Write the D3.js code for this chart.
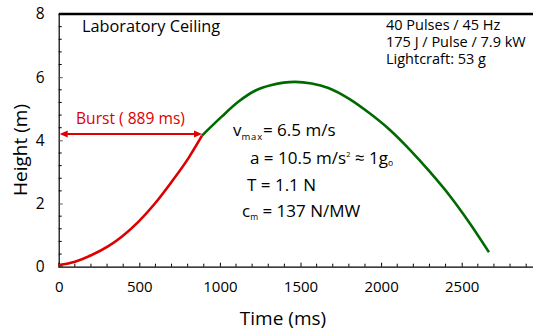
<!DOCTYPE html>
<html>
<head>
<meta charset="utf-8">
<script src="https://cdn.jsdelivr.net/npm/d3@7"></script>
<style>
  html, body { margin: 0; padding: 0; background: #fff; }
  svg { display: block; font-family: "Open Sans", "Noto Sans", sans-serif; }
</style>
</head>
<body>
<svg id="chart" width="533" height="331"></svg>
<script>
// Flight trajectory: laser-propelled lightcraft, powered burst then coast
const burstTime   = [0, 101, 205, 308, 391, 494, 597, 701, 804, 889];
const burstHeight = [0.05, 0.16, 0.37, 0.65, 0.95, 1.42, 2.0, 2.69, 3.43, 4.15];

const coastTime   = [889, 1011, 1114, 1218, 1321, 1466, 1569, 1673, 1807, 1931, 2055, 2179, 2303, 2427, 2551, 2669];
const coastHeight = [4.15, 4.75, 5.22, 5.57, 5.75, 5.85, 5.80, 5.66, 5.30, 4.85, 4.33, 3.70, 3.00, 2.24, 1.37, 0.46];

const xMajorTicks = [0, 500, 1000, 1500, 2000, 2500];
const yMajorTicks = [0, 2, 4, 6, 8];

const burstDuration = 889;     // ms
const burstArrowHeight = 4.2;  // m
const ceilingHeight = 8;       // m

const svg = d3.select("#chart");

const x = d3.scaleLinear().domain([0, 3000]).range([58.7, 542.3]);
const y = d3.scaleLinear().domain([0, 8]).range([266.7, 14]);

// minor ticks
const xMinor = d3.range(0, 3001, 100).filter(v => v % 500 !== 0);
const yMinor = d3.range(0, 8.001, 0.4).map(v => +v.toFixed(1)).filter(v => Math.abs(v / 2 - Math.round(v / 2)) > 1e-6);

// x axis
const gx = svg.append("g").attr("transform", `translate(0,${y(0)})`);
gx.call(d3.axisBottom(x).tickValues(xMajorTicks).tickSize(-4).tickPadding(15).tickFormat(d3.format("d")))
  .call(g => g.select(".domain").attr("stroke", "#000").attr("stroke-width", 1.2))
  .call(g => g.selectAll(".tick line").attr("stroke", "#000"))
  .call(g => g.selectAll(".tick text").attr("font-size", 15).attr("fill", "#000")
              .attr("font-family", "Open Sans, sans-serif"));
gx.selectAll(".minor").data(xMinor).enter().append("line")
  .attr("x1", d => x(d)).attr("x2", d => x(d)).attr("y1", 0).attr("y2", -3)
  .attr("stroke", "#000");

// y axis
const gy = svg.append("g").attr("transform", `translate(${x(0)},0)`);
gy.call(d3.axisLeft(y).tickValues(yMajorTicks).tickSize(-4).tickPadding(14).tickFormat(d3.format("d")))
  .call(g => g.select(".domain").attr("stroke", "#000").attr("stroke-width", 1.2))
  .call(g => g.selectAll(".tick line").attr("stroke", "#555"))
  .call(g => g.selectAll(".tick text").attr("font-size", 15.5).attr("fill", "#000")
              .attr("font-family", "Open Sans, sans-serif"));
gy.selectAll(".minor").data(yMinor).enter().append("line")
  .attr("x1", 0).attr("x2", 3).attr("y1", d => y(d)).attr("y2", d => y(d))
  .attr("stroke", "#000");

// ceiling line along the top of the frame
svg.append("line")
  .attr("x1", x(0)).attr("x2", 533)
  .attr("y1", y(ceilingHeight)).attr("y2", y(ceilingHeight))
  .attr("stroke", "#000").attr("stroke-width", 2.6);

// axis titles
svg.append("text").attr("x", 283).attr("y", 325).attr("text-anchor", "middle")
  .attr("font-size", 19).text("Time (ms)");
svg.append("text").attr("transform", "translate(27,150) rotate(-90)").attr("text-anchor", "middle")
  .attr("font-size", 19).text("Height (m)");

// trajectory curves
const line = d3.line().x(d => x(d[0])).y(d => y(d[1])).curve(d3.curveMonotoneX);
svg.append("path").datum(coastTime.map((t, i) => [t, coastHeight[i]]))
  .attr("d", line).attr("fill", "none").attr("stroke", "#006a00").attr("stroke-width", 2.6);
svg.append("path").datum(burstTime.map((t, i) => [t, burstHeight[i]]))
  .attr("d", line).attr("fill", "none").attr("stroke", "#dd0000").attr("stroke-width", 2.6);

// burst duration arrow
const ay = y(burstArrowHeight), ax0 = x(0), ax1 = x(burstDuration);
svg.append("line").attr("x1", ax0 + 6).attr("x2", ax1 - 6).attr("y1", ay).attr("y2", ay)
  .attr("stroke", "#dd0000").attr("stroke-width", 2);
svg.append("path").attr("d", `M${ax0 + 1},${ay} l8,-3.5 v7 z`).attr("fill", "#dd0000");
svg.append("path").attr("d", `M${ax1},${ay} l-8,-3.5 v7 z`).attr("fill", "#dd0000");
svg.append("text").attr("x", 76).attr("y", 123.5).attr("font-size", 15.6).attr("fill", "#dd0000")
  .text("Burst ( 889 ms)");

// labels
svg.append("text").attr("x", 82).attr("y", 32).attr("font-size", 16.3).text("Laboratory Ceiling");

const info = ["40 Pulses / 45 Hz", "175 J / Pulse / 7.9 kW", "Lightcraft: 53 g"];
svg.append("g").selectAll("text").data(info).enter().append("text")
  .attr("x", 386).attr("y", (d, i) => 29.5 + i * 17.3).attr("font-size", 14.5).text(d => d);

// performance figures
const fs = 17;
const t1 = svg.append("text").attr("x", 233).attr("y", 136).attr("font-size", fs);
t1.append("tspan").text("v");
t1.append("tspan").attr("font-size", 9.5).attr("dy", 4).attr("letter-spacing", 0.8).text("max");
t1.append("tspan").attr("dy", -4).text("= 6.5 m/s");

const t2 = svg.append("text").attr("x", 250).attr("y", 164).attr("font-size", fs);
t2.append("tspan").text("a = 10.5 m/s");
t2.append("tspan").attr("font-size", 7.5).attr("dy", -7.5).text("2");
t2.append("tspan").attr("dy", 7.5).text(" ≈ 1g");
t2.append("tspan").attr("font-size", 8.5).attr("dy", 2).text("o");

svg.append("text").attr("x", 247).attr("y", 191).attr("font-size", fs).text("T = 1.1 N");

const t4 = svg.append("text").attr("x", 242).attr("y", 217).attr("font-size", fs);
t4.append("tspan").text("c");
t4.append("tspan").attr("font-size", 8.5).attr("dy", 3).text("m");
t4.append("tspan").attr("dy", -3).text(" = 137 N/MW");
</script>
</body>
</html>
